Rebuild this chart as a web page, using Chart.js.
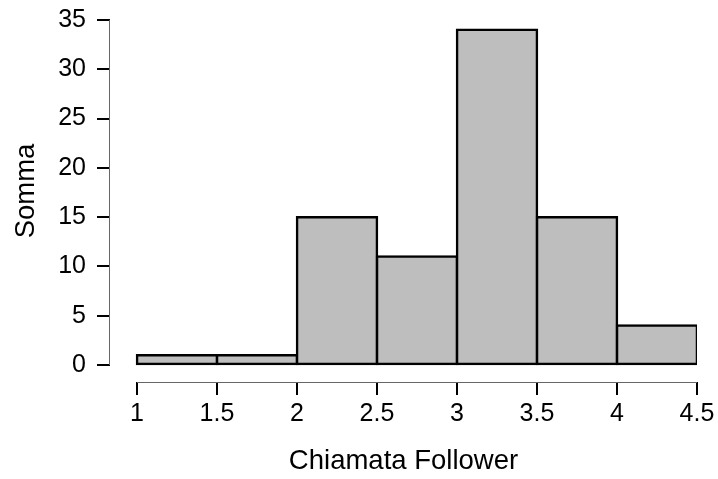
<!DOCTYPE html>
<html>
<head>
<meta charset="utf-8">
<script src="https://cdn.jsdelivr.net/npm/chart.js@4"></script>
<style>
  body { margin: 0; background: #fff; }
</style>
</head>
<body>
<canvas id="chart" width="718" height="479"></canvas>
<script>
// histogram bins (edges) and counts
const binEdges = [1, 1.5, 2, 2.5, 3, 3.5, 4, 4.5];
const counts = [1, 1, 15, 11, 34, 15, 4];
const xTicks = [1, 1.5, 2, 2.5, 3, 3.5, 4, 4.5];
const xTickLabels = ["1", "1.5", "2", "2.5", "3", "3.5", "4", "4.5"];
const yTicks = [0, 5, 10, 15, 20, 25, 30, 35];
const yTickLabels = ["0", "5", "10", "15", "20", "25", "30", "35"];

const points = counts.map((c, i) => ({ x: (binEdges[i] + binEdges[i + 1]) / 2, y: c }));

const FONT = "'Liberation Sans', Arial, sans-serif";

// no extra padding for tick labels, keep the plot area fixed
function noPad(s) {
  s.paddingTop = 0;
  s.paddingBottom = 0;
  s.paddingLeft = 0;
  s.paddingRight = 0;
}

// R-style detached axis lines, drawn from the scales
const axisLines = {
  id: "axisLines",
  afterDraw(chart) {
    const { ctx, chartArea, scales } = chart;
    ctx.save();
    ctx.strokeStyle = "#666";
    ctx.lineWidth = 1;
    ctx.beginPath();
    const yb = Math.round(chartArea.bottom) + 0.5;
    ctx.moveTo(scales.x.getPixelForValue(xTicks[0]), yb);
    ctx.lineTo(scales.x.getPixelForValue(xTicks[xTicks.length - 1]), yb);
    const xl = Math.round(chartArea.left) - 0.5;
    ctx.moveTo(xl, scales.y.getPixelForValue(yTicks[0]));
    ctx.lineTo(xl, scales.y.getPixelForValue(yTicks[yTicks.length - 1]));
    ctx.stroke();
    ctx.restore();
  }
};

let chart = new Chart(document.getElementById("chart"), {
  type: "bar",
  data: {
    datasets: [{
      data: points,
      backgroundColor: "#BEBEBE",
      borderColor: "#000",
      borderWidth: 2.5,
      borderSkipped: false,
      inflateAmount: 1.25,
      barPercentage: 1,
      categoryPercentage: 1
    }]
  },
  options: {
    responsive: false,
    animation: false,
    layout: { padding: { top: 0, right: 21, left: 0, bottom: 0 } },
    plugins: { legend: { display: false }, tooltip: { enabled: false } },
    scales: {
      x: {
        type: "linear",
        offset: false,
        min: 0.83125,
        max: 4.5,
        afterBuildTicks: s => { s.ticks = xTicks.map(v => ({ value: v })); },
        afterFit: s => { s.height = 97; noPad(s); },
        ticks: {
          autoSkip: false,
          maxRotation: 0,
          padding: 4,
          color: "#000",
          font: { family: FONT, size: 25 },
          callback: (v, i) => xTickLabels[i]
        },
        grid: { offset: false, drawOnChartArea: false, tickLength: 13, color: "#000", lineWidth: 2 },
        border: { display: false },
        title: {
          display: true,
          text: "Chiamata Follower",
          color: "#000",
          font: { family: FONT, size: 27.5 },
          padding: { top: 0, bottom: 1 }
        }
      },
      y: {
        min: -1.725,
        max: 37.03,
        afterBuildTicks: s => { s.ticks = yTicks.map(v => ({ value: v })); },
        afterFit: s => { s.width = 110; noPad(s); },
        ticks: {
          padding: 11,
          color: "#000",
          font: { family: FONT, size: 25 },
          callback: (v, i) => yTickLabels[i]
        },
        grid: { drawOnChartArea: false, tickLength: 13, color: "#000", lineWidth: 2 },
        border: { display: false },
        title: {
          display: true,
          text: "Somma",
          color: "#000",
          font: { family: FONT, size: 27.5 },
          padding: { top: 10, bottom: 0 }
        }
      }
    }
  },
  plugins: [axisLines]
});
</script>
</body>
</html>
